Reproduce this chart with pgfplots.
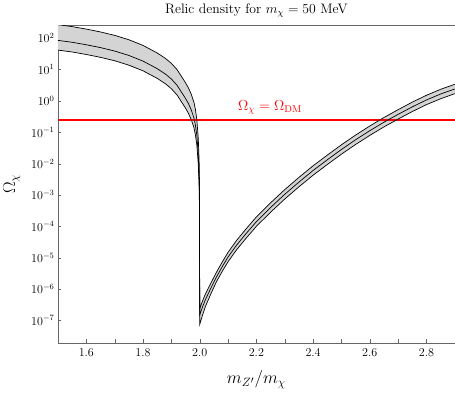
\documentclass[border=0pt]{standalone}
\usepackage{graphicx}
\usepackage{pgfplots}
\pgfplotsset{compat=1.18}
\definecolor{dmred}{rgb}{1,0,0}
\definecolor{band}{rgb}{0.83,0.83,0.83}
\pgfplotstableread{
x y
1.50 269
1.55 234
1.60 195
1.65 158
1.70 123
1.75 89.2
1.80 58.8
1.85 33.8
1.88 22.4
1.90 15.8
1.92 10.0
1.94 5.25
1.95 3.80
1.96 2.63
1.97 1.66
1.98 0.892
1.985 0.525
1.99 0.251
1.995 0.0632
1.998 0.0126
1.9995 0.0020
2.00 2.34e-7
2.01 4.17e-7
2.02 6.92e-7
2.04 1.58e-6
2.06 3.55e-6
2.08 7.41e-6
2.10 1.48e-5
2.13 3.55e-5
2.16 7.59e-5
2.20 2.00e-4
2.25 5.62e-4
2.30 1.48e-3
2.35 3.63e-3
2.40 8.51e-3
2.45 0.0186
2.50 0.0398
2.55 0.0813
2.60 0.158
2.65 0.295
2.70 0.525
2.75 0.912
2.80 1.51
2.85 2.34
2.90 3.39
}\tabupper
\pgfplotstableread{
x y
1.50 85.1
1.55 74.1
1.60 61.7
1.65 50.1
1.70 38.9
1.75 28.2
1.80 18.6
1.85 10.7
1.88 7.08
1.90 5.01
1.92 3.16
1.94 1.66
1.95 1.20
1.96 0.832
1.97 0.525
1.98 0.282
1.985 0.166
1.99 0.0794
1.995 0.0200
1.998 0.00398
1.9995 6.31e-4
2.00 1.48e-7
2.01 2.69e-7
2.02 4.57e-7
2.04 1.10e-6
2.06 2.51e-6
2.08 5.25e-6
2.10 1.05e-5
2.13 2.51e-5
2.16 5.37e-5
2.20 1.41e-4
2.25 3.98e-4
2.30 1.05e-3
2.35 2.57e-3
2.40 6.03e-3
2.45 0.0132
2.50 0.0282
2.55 0.0575
2.60 0.112
2.65 0.209
2.70 0.372
2.75 0.646
2.80 1.07
2.85 1.66
2.90 2.40
}\tabmid
\pgfplotstableread{
x y
1.50 41.7
1.55 36.3
1.60 30.2
1.65 24.5
1.70 19.1
1.75 13.8
1.80 9.11
1.85 5.24
1.88 3.47
1.90 2.45
1.92 1.55
1.94 0.813
1.95 0.588
1.96 0.407
1.97 0.257
1.98 0.138
1.985 0.0813
1.99 0.0389
1.995 0.0098
1.998 0.00195
1.9995 3.09e-4
2.00 7.41e-8
2.01 1.48e-7
2.02 2.75e-7
2.04 7.24e-7
2.06 1.78e-6
2.08 3.72e-6
2.10 7.41e-6
2.13 1.78e-5
2.16 3.80e-5
2.20 1.00e-4
2.25 2.82e-4
2.30 7.41e-4
2.35 1.82e-3
2.40 4.27e-3
2.45 9.33e-3
2.50 0.0200
2.55 0.0407
2.60 0.0794
2.65 0.148
2.70 0.263
2.75 0.457
2.80 0.759
2.85 1.17
2.90 1.70
}\tablow
% band outline: upper curve left to right, then lower curve right to left
\pgfplotstableread{
x y
1.50 269
1.55 234
1.60 195
1.65 158
1.70 123
1.75 89.2
1.80 58.8
1.85 33.8
1.88 22.4
1.90 15.8
1.92 10.0
1.94 5.25
1.95 3.80
1.96 2.63
1.97 1.66
1.98 0.892
1.985 0.525
1.99 0.251
1.995 0.0632
1.998 0.0126
1.9995 0.0020
2.00 2.34e-7
2.01 4.17e-7
2.02 6.92e-7
2.04 1.58e-6
2.06 3.55e-6
2.08 7.41e-6
2.10 1.48e-5
2.13 3.55e-5
2.16 7.59e-5
2.20 2.00e-4
2.25 5.62e-4
2.30 1.48e-3
2.35 3.63e-3
2.40 8.51e-3
2.45 0.0186
2.50 0.0398
2.55 0.0813
2.60 0.158
2.65 0.295
2.70 0.525
2.75 0.912
2.80 1.51
2.85 2.34
2.90 3.39
2.90 1.70
2.85 1.17
2.80 0.759
2.75 0.457
2.70 0.263
2.65 0.148
2.60 0.0794
2.55 0.0407
2.50 0.0200
2.45 9.33e-3
2.40 4.27e-3
2.35 1.82e-3
2.30 7.41e-4
2.25 2.82e-4
2.20 1.00e-4
2.16 3.80e-5
2.13 1.78e-5
2.10 7.41e-6
2.08 3.72e-6
2.06 1.78e-6
2.04 7.24e-7
2.02 2.75e-7
2.01 1.48e-7
2.00 7.41e-8
1.9995 3.09e-4
1.998 0.00195
1.995 0.0098
1.99 0.0389
1.985 0.0813
1.98 0.138
1.97 0.257
1.96 0.407
1.95 0.588
1.94 0.813
1.92 1.55
1.90 2.45
1.88 3.47
1.85 5.24
1.80 9.11
1.75 13.8
1.70 19.1
1.65 24.5
1.60 30.2
1.55 36.3
1.50 41.7
}\tabband
% Omega_DM = 0.245, drawn as a thin filled strip
\pgfplotstableread{
x y
1.5 0.2317
2.9 0.2317
2.9 0.2590
1.5 0.2590
}\tabdm
\begin{document}
\begin{tikzpicture}
\begin{axis}[
  scale only axis, width=395pt, height=316pt,
  xmin=1.5, xmax=2.9,
  ymode=log, ymin=1.93e-8, ymax=255,
  xtick={1.6,1.8,2.0,2.2,2.4,2.6,2.8},
  minor xtick={1.5,1.7,1.9,2.1,2.3,2.5,2.7,2.9},
  ytick={1e-7,1e-6,1e-5,1e-4,1e-3,1e-2,1e-1,1e0,1e1,1e2},
  yminorticks=false,
  tick label style={font=\fontsize{12}{14}\selectfont},
  xticklabel style={yshift=-2pt, /pgf/number format/.cd, fixed, fixed zerofill, precision=1},
  xtick pos=bottom, ytick pos=left, tick align=inside,
  major tick length=3.5pt, minor tick length=3.5pt,
  axis line style={black!60, line width=0.5pt}, tick style={black!60},
  title={\scalebox{1.14}{Relic density for $m_\chi = 50$ MeV}},
  title style={font=\fontsize{12}{15}\selectfont, at={(axis description cs:0.5,1)}, anchor=south, yshift=-1pt},
  xlabel={$m_{Z'}/m_\chi$},
  ylabel={$\Omega_\chi$},
  label style={font=\fontsize{17.28}{20}\selectfont},
  xlabel style={at={(axis description cs:0.5,0)}, anchor=base, yshift=-40.7pt},
  ylabel style={at={(axis description cs:-0.1165,0.5)}, anchor=center},
]
\addplot[fill=band, draw=none, forget plot] table {\tabband} -- cycle;
\addplot[fill=dmred, draw=none, forget plot] table {\tabdm} -- cycle;
\addplot[black, line width=0.7pt, mark=none] table {\tabupper};
\addplot[black, line width=0.7pt, mark=none] table {\tabmid};
\addplot[black, line width=0.7pt, mark=none] table {\tablow};
\node[text=dmred, anchor=base, font=\fontsize{14.4}{17}\selectfont, inner sep=0pt, yshift=10pt] at (axis cs:2.248,0.245) {$\Omega_\chi = \Omega_{\mathrm{DM}}$};
\end{axis}
\end{tikzpicture}
\end{document}
